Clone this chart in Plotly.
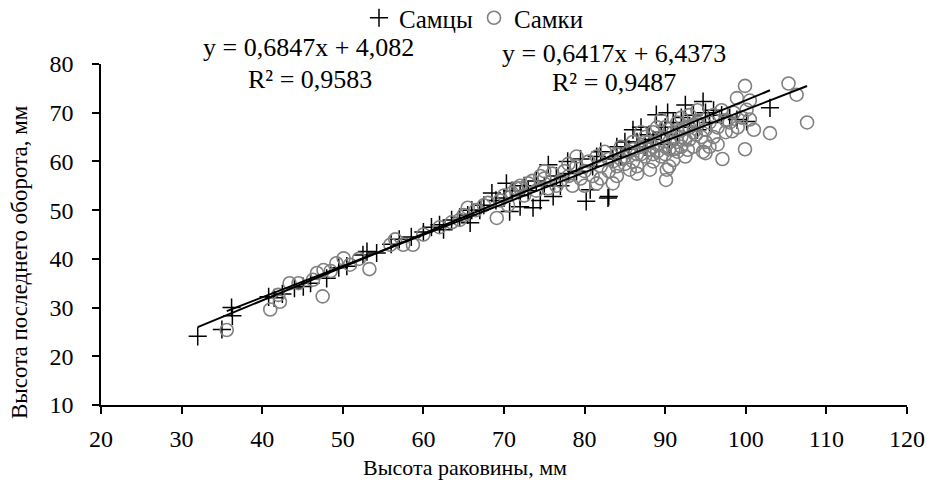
import plotly.graph_objects as go

# ---- data ----
male_x = [32, 35.0, 36.2, 36.3, 40.8, 41.5, 42.5, 44, 45.1, 46, 48, 49.5, 50.5, 52.5, 53, 54.2, 56, 57, 58.5, 60,
          61, 62, 62.5, 63.5, 64.5, 65.5, 65.8, 66, 67, 67.5, 68.5, 69, 70, 70.3, 70.7, 71, 72, 72, 72.5, 73,
          73.6, 74, 74.5, 75, 75.5, 76.1, 76.5, 77, 77.9, 78, 79, 79.5, 80.2, 80.7, 81, 81.5, 82, 82.9, 83, 83.5,
          84, 84.5, 85, 85.5, 86, 86.5, 87, 87.5, 88, 88.5, 88.9, 89.5, 90, 90.3, 90.5, 91, 91.5, 92, 92.5, 93,
          93.5, 94, 94.7, 95, 95.5, 96, 97, 98, 98.9, 100.1, 103]
male_y = [24.1, 25.5, 30.0, 28.3, 32.2, 32.0, 32.8, 34.0, 34.3, 35, 36, 38.2, 38.5, 40.8, 41.5, 41.2, 43, 44, 44.5, 45.5,
          46.5, 47, 46, 48, 48.5, 49, 47.4, 50, 50, 51, 53.5, 52, 52.5, 55.5, 49.7, 54, 50.7, 53, 55, 54,
          50.5, 56, 52, 55, 59.3, 52.8, 57, 55, 60, 57.5, 58, 60.5, 51.8, 54.2, 59, 61, 62, 52.5, 52.8, 60.5,
          63, 61, 64, 62.5, 66.5, 64, 67, 63, 65.5, 64.5, 69.6, 66, 67, 70, 63.5, 68, 65.5, 69, 71.6, 67,
          69.5, 66.5, 72.3, 70, 68, 70.5, 69.5, 69, 68.6, 68.2, 71]

female_x = [35.6, 41, 42, 42.2, 43.4, 44.5, 46.3, 46.8, 47.5, 47.6, 48.5, 49.2, 50.1, 50.9, 52, 53.3, 55.9, 57.5, 58.7, 56.5,
            60, 62, 63.5, 64.5, 65.5, 65, 66.5, 67.5, 68, 69.1, 69.5, 70, 70.5, 71, 71.5, 72, 72.5, 73, 73.5, 74,
            74.5, 75, 75.5, 76, 76.5, 77, 77.5, 78, 78.5, 79, 79.5, 80, 80, 80.5, 81, 81.5, 81.5, 82, 82, 82.5,
            83, 83.5, 83.5, 84, 84, 84.5, 85, 85.5, 85.6, 86, 86, 86.5, 87, 87, 87.5, 87.5, 88, 88.1, 88.5, 88.5,
            89, 89, 89.5, 89.5, 90, 90, 90.1, 90.2, 90.5, 90.5, 91, 91, 91, 91.5, 91.5, 92, 92, 92, 92.5, 92.5,
            92.8, 93, 93, 93.5, 93.5, 94, 94, 94.5, 94.7, 95, 95, 95, 95.5, 96, 96, 96.5, 96.5, 97, 97.1, 97.5,
            97.5, 98, 98.3, 98.5, 98.9, 99, 99.5, 99.9, 99.9, 100.1, 100.5, 100.5, 101, 103, 105.3, 106.3, 107.6,
            72, 75, 78, 79, 84.5, 86.5, 88.5, 91.5, 93.5, 95.5,
            83, 84, 85, 86, 87, 88, 89, 90, 91, 92, 93, 94, 86.5, 88.5, 90.5, 92.5, 89.5, 91.5, 87.5, 93.8]
female_y = [25.4, 29.6, 32.6, 31.2, 35, 35, 35.7, 37.1, 32.3, 37.7, 37.5, 39.1, 40.1, 38.8, 40, 37.9, 42.9, 42.9, 42.9, 44,
            45, 46.5, 47.5, 48, 50.5, 49, 50, 51, 51.5, 48.4, 52, 53, 51, 53.5, 54.5, 55, 53, 55.5, 56, 54,
            57, 56.5, 54.5, 57.5, 55, 56, 58, 57, 55, 59, 56.5, 58, 55, 60, 57, 61, 55.5, 59, 56.5, 62,
            58, 60, 55.5, 61.5, 57, 63, 59.5, 62, 58.3, 64, 60, 57.5, 63, 66, 65, 61, 62.5, 58.3, 66, 60,
            63.5, 67, 65, 61, 67, 61.5, 56.2, 58.3, 64, 59, 66, 62.5, 60.3, 68, 64, 65, 63, 69, 67, 61,
            62.4, 69.5, 64.5, 66, 63, 68, 70.5, 65, 62, 66.5, 64, 61.7, 68, 69.5, 65, 67, 63.5, 70.5, 60.5, 66,
            68.5, 68, 66.2, 70, 73, 67, 69, 75.5, 62.5, 70.6, 68.6, 72.5, 66.5, 65.8, 76, 73.7, 68,
            54.5, 58, 59.5, 61, 60.5, 61.5, 63, 62, 67.5, 63,
            60.5, 59, 61, 62.5, 61.5, 64, 62, 63, 64.5, 66.5, 67, 67.5, 59, 61.5, 62.5, 64.5, 68.5, 66.5, 64, 65.5]

male_coef = (0.6847, 4.082)
female_coef = (0.6417, 6.4373)
male_eq = ["y = 0,6847x + 4,082", "R² = 0,9583"]
female_eq = ["y = 0,6417x + 6,4373", "R² = 0,9487"]
series_names = ["Самцы", "Самки"]
x_ticks = list(range(20, 121, 10))
y_ticks = list(range(10, 81, 10))

FONT = "Liberation Serif, Times New Roman, serif"
W, H = 930, 502
L, R, T, B = 101, 23, 64, 97
PW, PH = W - L - R, H - T - B


def px(xp):
    return (xp - L) / PW


def py(yp):
    return (H - B - yp) / PH


fig = go.Figure()
fig.add_trace(go.Scatter(
    x=male_x, y=male_y, mode="markers", name=series_names[0],
    marker=dict(symbol="cross-thin-open", size=13, color="black", line=dict(color="black", width=1.5)),
))
fig.add_trace(go.Scatter(
    x=female_x, y=female_y, mode="markers", name=series_names[1],
    marker=dict(symbol="circle-open", size=13, color="#808080", line=dict(color="#808080", width=1.6)),
))

mx = [min(male_x), max(male_x)]
fx = [min(female_x), max(female_x)]
fig.add_trace(go.Scatter(x=mx, y=[male_coef[0] * v + male_coef[1] for v in mx], mode="lines",
                         line=dict(color="black", width=2), showlegend=False, hoverinfo="skip"))
fig.add_trace(go.Scatter(x=fx, y=[female_coef[0] * v + female_coef[1] for v in fx], mode="lines",
                         line=dict(color="black", width=2), showlegend=False, hoverinfo="skip"))

ann = []
for text, xp, yp in [(male_eq[0], 308, 47), (male_eq[1], 310, 80),
                     (female_eq[0], 614, 53), (female_eq[1], 614, 83)]:
    ann.append(dict(text=text, x=px(xp), y=py(yp), xref="paper", yref="paper", showarrow=False,
                    xanchor="center", yanchor="middle", font=dict(family=FONT, size=26, color="black")))
ann.append(dict(text="Высота раковины, мм", x=px(465), y=py(467), xref="paper", yref="paper", showarrow=False,
                xanchor="center", yanchor="middle", font=dict(family=FONT, size=22, color="black")))
ann.append(dict(text="Высота последнего оборота, мм", x=px(19), y=py(262), xref="paper", yref="paper",
                showarrow=False, textangle=-90, xanchor="center", yanchor="middle",
                font=dict(family=FONT, size=23, color="black")))

axis_common = dict(showgrid=False, zeroline=False, showline=True, linecolor="black", linewidth=1.5,
                   ticks="outside", ticklen=7, tickwidth=1.5, tickcolor="black",
                   tickfont=dict(family=FONT, size=24, color="black"))

fig.update_layout(
    width=W, height=H, autosize=False,
    margin=dict(l=L, r=R, t=T, b=B, autoexpand=False),
    paper_bgcolor="white", plot_bgcolor="white",
    font=dict(family=FONT, size=24, color="black"),
    showlegend=True,
    legend=dict(orientation="h", x=px(359), y=py(18), xanchor="left", yanchor="middle",
                font=dict(family=FONT, size=25, color="black"), bgcolor="rgba(0,0,0,0)",
                itemwidth=30, entrywidth=70, entrywidthmode="pixels", tracegroupgap=0),
    xaxis=dict(range=[20, 120], tickvals=x_ticks, ticklabelstandoff=4, **axis_common),
    yaxis=dict(range=[10, 80], tickvals=y_ticks, ticklabelstandoff=14, **axis_common),
    annotations=ann,
)

fig.write_html("out.html")
